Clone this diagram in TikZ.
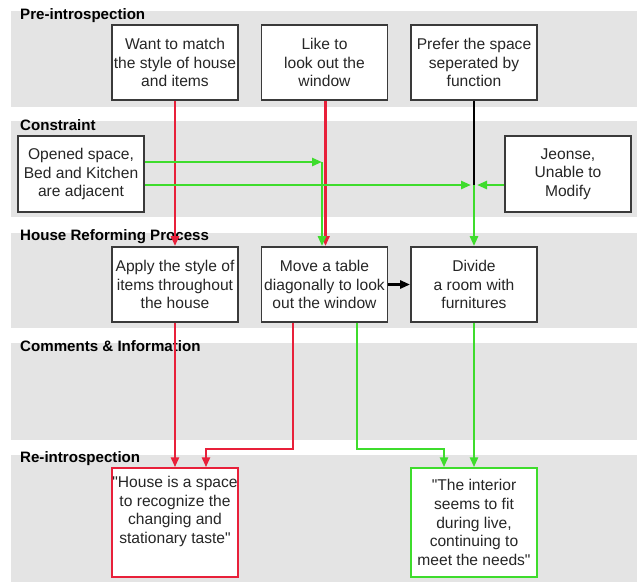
\documentclass[tikz,border=0pt]{standalone}
\usepackage{fontspec}
\setmainfont{Liberation Sans}[Ligatures=TeXOff]
\usetikzlibrary{arrows.meta}
\definecolor{bandgray}{HTML}{E4E4E4}
\definecolor{boxline}{HTML}{3A3A3A}
\definecolor{txt}{HTML}{262626}
\definecolor{linkred}{HTML}{E8203A}
\definecolor{linkgreen}{HTML}{3EDC2C}
\tikzset{
  band/.style={fill=bandgray, draw=none},
  bandlabel/.style={anchor=base west, inner sep=0, font=\fontsize{15.1}{18}\selectfont\bfseries, text=black},
  stepbox/.style={draw=boxline, line width=1.8pt, fill=white, minimum width=126pt, minimum height=75pt,
    inner sep=0, align=center, text=txt, font=\fontsize{15.6}{18.6}\selectfont},
  quotebox/.style={stepbox, minimum height=109pt, line width=1.5pt},
  bodytext/.style={inner sep=0, align=center, text=txt, font=\fontsize{15.6}{18.6}\selectfont},
  tip/.style={-{Triangle[length=10pt,width=8pt]}},
  redlink/.style={draw=linkred, line width=2.6pt},
  greenlink/.style={draw=linkgreen, line width=2.6pt},
  blacklink/.style={draw=black, line width=2.6pt},
}
\begin{document}
\begin{tikzpicture}[x=1pt,y=-1pt]
\useasboundingbox (0,0) rectangle (641,582);
\fill[white] (0,0) rectangle (641,582);

% swimlane bands
\path[band] (11,11) rectangle (637,107);
\path[band] (11,121) rectangle (637,217);
\path[band] (11,233) rectangle (637,328);
\path[band] (11,343) rectangle (637,440);
\path[band] (11,455) rectangle (637,582);

\node[bandlabel] (l1) at (20,19) {Pre-introspection};
\node[bandlabel] (l2) at (20,130) {Constraint};
\node[bandlabel] (l3) at (20,240) {House Reforming Process};
\node[bandlabel] (l4) at (20,351) {Comments \& Information};
\node[bandlabel] (l5) at (20,462) {Re-introspection};

% boxes
\node[stepbox] (A) at (175,62.5) {Want to match\\the style of house\\and items};
\node[stepbox] (B) at (324.5,62.5) {Like to\\look out the\\window};
\node[stepbox] (C) at (474,62.5) {Prefer the space\\seperated by\\function};
\node[stepbox, minimum height=76pt] (D) at (81,174) {Opened space,\\Bed and Kitchen\\are adjacent};
\node[stepbox, minimum height=76pt] (E) at (568,174) {Jeonse,\\Unable to\\Modify};
\node[stepbox] (F) at (175,284.5) {Apply the style of\\items throughout\\the house};
\node[stepbox] (G) at (324.5,284.5) {Move a table\\diagonally to look\\out the window};
\node[stepbox] (H) at (474,284.5) {Divide\\a room with\\furnitures};
\node[quotebox, draw=linkred] (I) at (175,522.5) {};
\node[bodytext, anchor=north] (Itext) at (175,476) {"House is a space\\to recognize the\\changing and\\stationary taste"};
\node[quotebox, draw=linkgreen] (J) at (474,522.5) {"The interior\\seems to fit\\during live,\\continuing to\\meet the needs"};

% connectors
\coordinate (g1) at (322,162);
\coordinate (jn) at (474,185);

\draw[redlink, tip] (A.south) -- (F.north);
\draw[redlink, tip] (F.south) -- (I.north);
\draw[redlink, tip] ([xshift=1pt]B.south) -- ([xshift=1pt]G.north);

\draw[greenlink, tip] (D.east |- g1) -- (g1);
\draw[greenlink, tip] (g1) -- (g1 |- G.north);
\draw[greenlink, tip, shorten >=3pt] (D.east |- jn) -- (jn);
\draw[greenlink, tip, shorten >=3pt] (E.west |- jn) -- (jn);
\draw[blacklink] (C.south) -- (jn);
\draw[greenlink, tip] (jn) -- (H.north);

\draw[blacklink, tip] (G.east) -- (H.west);

\draw[redlink, tip] ([xshift=-31.5pt]G.south) -- ++(0,126) -| ([xshift=31pt]I.north);
\draw[greenlink, tip] ([xshift=32.5pt]G.south) -- ++(0,126) -| ([xshift=-30pt]J.north);
\draw[greenlink, tip] (H.south) -- (J.north);
\end{tikzpicture}
\end{document}
